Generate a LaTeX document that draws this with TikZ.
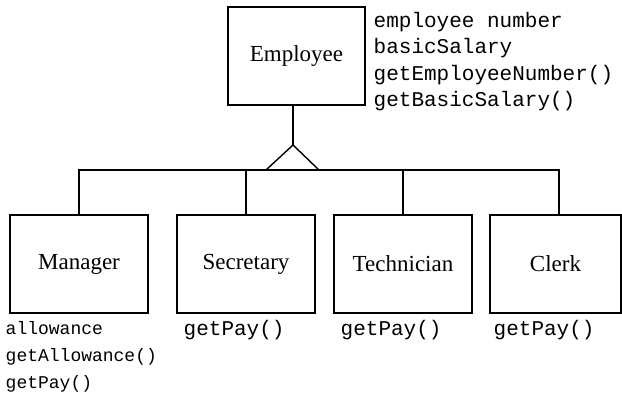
\documentclass[tikz,border=0pt]{standalone}
\usepackage{fontspec}
\setmainfont{Liberation Serif}
\setmonofont{Liberation Mono}
\begin{document}
\begin{tikzpicture}[x=1pt,y=-1pt,line width=1.4pt,
  classbox/.style={draw,inner sep=0pt,minimum height=98pt,font=\fontsize{23}{27}\selectfont},
  attr/.style={anchor=base west,inner sep=0pt,font=\ttfamily\fontsize{21}{26}\selectfont},
  attrs/.style={anchor=base west,inner sep=0pt,font=\ttfamily\fontsize{18}{22}\selectfont}]
\useasboundingbox (0,0) rectangle (622,394);
\node[classbox,minimum width=137pt] (emp) at (296.5,56) {Employee};
\node[classbox,minimum width=138pt] (man) at (79,264) {Manager};
\node[classbox,minimum width=138pt] (sec) at (246,264) {Secretary};
\node[classbox,minimum width=138pt] (tec) at (403,264) {Technician};
\node[classbox,minimum width=131pt] (clk) at (555.5,264) {Clerk};
\coordinate (apex) at (293,145);
\coordinate (tl) at (266,170);
\coordinate (tr) at (319,170);
\coordinate (bar) at (0,170);
\coordinate (cstem) at (559,170);
\draw (apex |- emp.south) -- (apex);
\draw (tl) -- (apex) -- (tr);
\draw (man.north) |- (cstem) -- (cstem |- clk.north);
\draw (sec.north) -- (sec.north |- bar);
\draw (tec.north) -- (tec.north |- bar);
\node[attr] (e1) at (373,27) {employee number};
\node[attr] (e2) at (373,53) {basicSalary};
\node[attr] (e3) at (373,80) {getEmployeeNumber()};
\node[attr] (e4) at (373,106) {getBasicSalary()};
\node[attrs] (m1) at (5,334) {allowance};
\node[attrs] (m2) at (5,361) {getAllowance()};
\node[attrs] (m3) at (5,388) {getPay()};
\node[attr] (s1) at (183,335) {getPay()};
\node[attr] (t1) at (340,335) {getPay()};
\node[attr] (c1) at (493,335) {getPay()};
\end{tikzpicture}
\end{document}
